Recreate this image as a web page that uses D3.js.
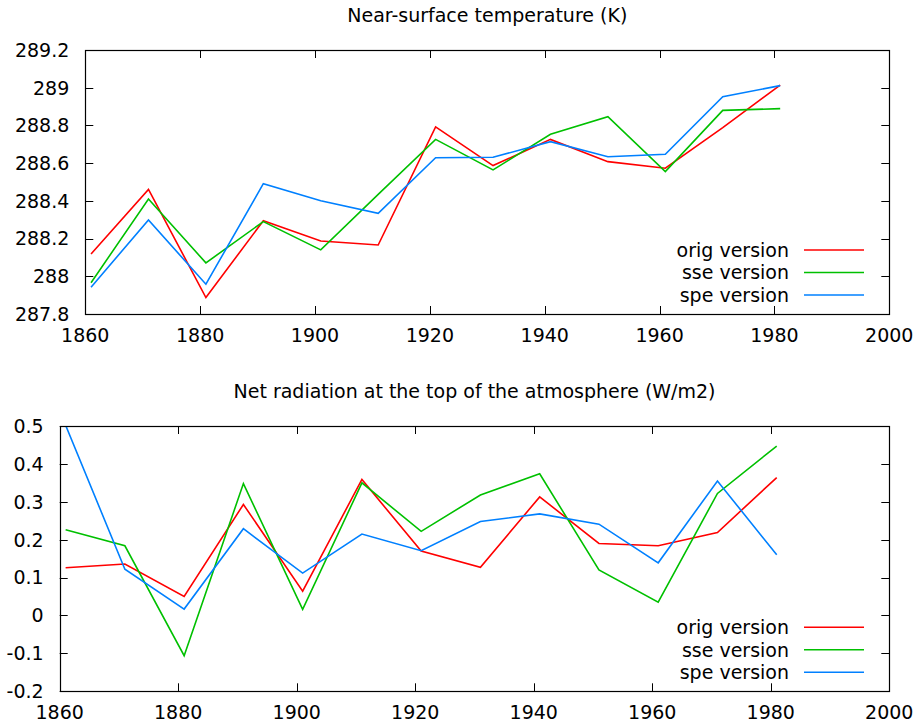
<!DOCTYPE html>
<html><head><meta charset="utf-8">
<script src="https://cdn.jsdelivr.net/npm/d3@7"></script>
<style>body{margin:0;background:#fff}svg{display:block}text{font-family:"DejaVu Sans";fill:#000}</style>
</head><body><svg id="c" width="917" height="722"></svg>
<script>
const years = [1861,1871,1881,1891,1901,1911,1921,1931,1941,1951,1961,1971,1981];
const seriesNames = ["orig version","sse version","spe version"];
const seriesColors = ["#ff0000","#00c000","#0080ff"];
const tempOrig = [288.118,288.461,287.887,288.295,288.187,288.166,288.792,288.587,288.726,288.608,288.573,288.788,289.014];
const tempSse  = [287.966,288.410,288.071,288.290,288.140,288.434,288.726,288.564,288.753,288.846,288.555,288.880,288.889];
const tempSpe  = [287.942,288.299,287.958,288.491,288.401,288.334,288.629,288.631,288.714,288.634,288.647,288.952,289.011];
const radOrig = [0.126,0.136,0.050,0.293,0.064,0.359,0.170,0.127,0.313,0.190,0.184,0.219,0.364];
const radSse  = [0.226,0.184,-0.106,0.348,0.016,0.350,0.222,0.318,0.374,0.120,0.035,0.322,0.447];
const radSpe  = [0.502,0.122,0.017,0.229,0.112,0.215,0.171,0.248,0.268,0.241,0.139,0.355,0.160];
const xTicks = [1860,1880,1900,1920,1940,1960,1980,2000];
const tempTicks = [287.8,288,288.2,288.4,288.6,288.8,289,289.2];
const radTicks = [-0.2,-0.1,0,0.1,0.2,0.3,0.4,0.5];

const svg = d3.select("#c");
const FS = 19;

function panel(cfg, idx){
  const g = svg.append("g");
  const x = d3.scaleLinear().domain([1860,2000]).range([cfg.left,cfg.right]);
  const y = d3.scaleLinear().domain(cfg.ydom).range([cfg.bottom,cfg.top]);
  const cid = "clip"+idx;
  svg.append("clipPath").attr("id",cid).append("rect")
    .attr("x",cfg.left).attr("y",cfg.top).attr("width",cfg.right-cfg.left).attr("height",cfg.bottom-cfg.top);
  const TL = 8;
  const tk = g.append("g").attr("stroke","#000").attr("stroke-width",1);
  xTicks.forEach(t=>{
    const px = Math.round(x(t))+0.5;
    tk.append("line").attr("x1",px).attr("x2",px).attr("y1",cfg.bottom).attr("y2",cfg.bottom-TL);
    tk.append("line").attr("x1",px).attr("x2",px).attr("y1",cfg.top).attr("y2",cfg.top+TL);
  });
  cfg.yticks.forEach(t=>{
    const py = Math.round(y(t))+0.5;
    tk.append("line").attr("y1",py).attr("y2",py).attr("x1",cfg.left).attr("x2",cfg.left+TL);
    tk.append("line").attr("y1",py).attr("y2",py).attr("x1",cfg.right).attr("x2",cfg.right-TL);
  });
  xTicks.forEach(t=>{
    g.append("text").attr("x",x(t)).attr("y",cfg.bottom+28).attr("text-anchor","middle")
      .attr("font-size",FS).text(t);
  });
  cfg.yticks.forEach(t=>{
    g.append("text").attr("x",cfg.left-16).attr("y",y(t)).attr("dy","0.36em").attr("text-anchor","end")
      .attr("font-size",FS).text(d3.format("~g")(t).replace("−","-"));
  });
  g.append("text").attr("x",(cfg.left+cfg.right)/2).attr("y",cfg.titleY).attr("text-anchor","middle")
    .attr("font-size",FS).text(cfg.title);
  const line = d3.line().x((d,i)=>x(years[i])).y(d=>y(d));
  cfg.series.forEach((s,k)=>{
    g.append("path").attr("d",line(s)).attr("fill","none").attr("stroke",seriesColors[k])
      .attr("stroke-width",1.6).attr("stroke-linejoin","miter").attr("clip-path",`url(#${cid})`);
  });
  seriesNames.forEach((n,k)=>{
    const cy = cfg.legendY + k*22.5;
    g.append("text").attr("x",789).attr("y",cy).attr("dy","0.36em").attr("text-anchor","end")
      .attr("font-size",FS).text(n);
    g.append("line").attr("x1",804).attr("x2",864).attr("y1",cy).attr("y2",cy)
      .attr("stroke",seriesColors[k]).attr("stroke-width",1.6);
  });
  g.append("rect").attr("x",Math.round(cfg.left)+0.5).attr("y",Math.round(cfg.top)+0.5)
    .attr("width",Math.round(cfg.right)-Math.round(cfg.left)).attr("height",Math.round(cfg.bottom)-Math.round(cfg.top))
    .attr("fill","none").attr("stroke","#000").attr("stroke-width",1.2);
}

panel({left:85.3,right:889.3,top:50,bottom:314,ydom:[287.8,289.2],yticks:tempTicks,
  title:"Near-surface temperature (K)",titleY:22,series:[tempOrig,tempSse,tempSpe],legendY:250},0);
panel({left:59.7,right:889.3,top:426,bottom:691.3,ydom:[-0.2,0.5],yticks:radTicks,
  title:"Net radiation at the top of the atmosphere (W/m2)",titleY:398,series:[radOrig,radSse,radSpe],legendY:627.3},1);
</script></body></html>
